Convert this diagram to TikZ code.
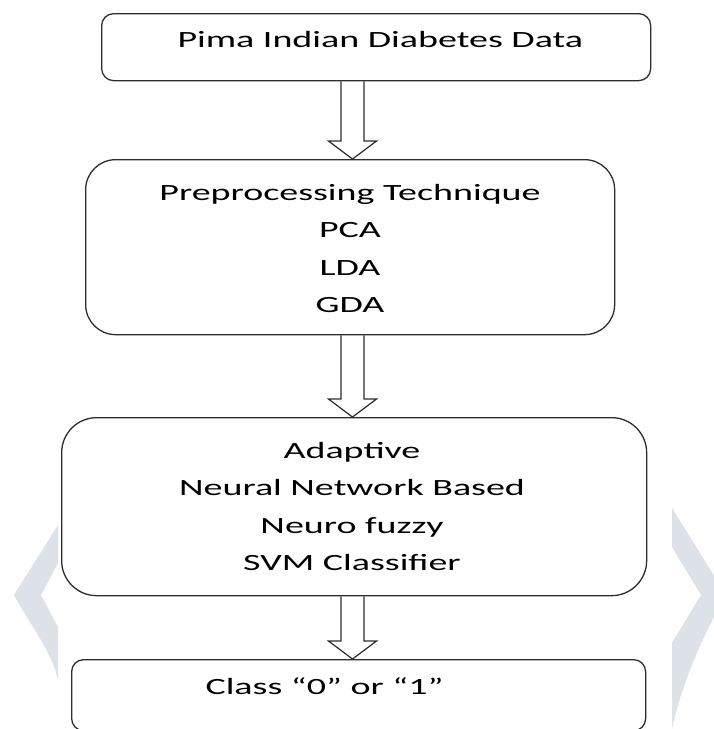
\documentclass[tikz,border=0pt]{standalone}
\usepackage{fontspec}
\setmainfont{Carlito}[FakeStretch=1.63]
\usetikzlibrary{calc}
\definecolor{markgray}{RGB}{220,226,231}
\definecolor{edgegray}{RGB}{45,45,45}

\begin{document}
\begin{tikzpicture}[x=1pt, y=-1pt, font=\fontsize{23.3}{37.5}\selectfont,
  stage/.style={draw=edgegray, line width=1.3pt, fill=white, anchor=north west, inner sep=0pt},
  flow/.style={draw=edgegray, line width=1.2pt, line join=miter}]
  \useasboundingbox[fill=white] (0,0) rectangle (713,729);
  \fill[markgray] (58,525) -- (14,595) .. controls (32,628) and (52,652) .. (58,680) -- (58,627) -- (41,595) -- (58,563) -- cycle;
  \fill[markgray] (672,508) -- (726,595) .. controls (700,640) and (680,690) .. (672,729) -- (672,643) -- (701,595) -- (672,547) -- cycle;
  \node[stage, rounded corners=12pt, minimum width=549pt, minimum height=67pt] (data) at (101,13) {};
  \node[anchor=base west] (datatxt) at (174,47) {Pima Indian Diabetes Data};
  \node[stage, rounded corners=30pt, minimum width=529pt, minimum height=175pt] (prep) at (85,159) {};
  \node[anchor=base, align=center] (preptxt) at (350,312.5) {Preprocessing Technique\\PCA\\LDA\\GDA};
  \node[stage, rounded corners=35pt, minimum width=585pt, minimum height=178pt] (clf) at (61,417) {};
  \node[anchor=base, align=center] (clftxt) at (352,570.5) {Adaptive\\Neural Network Based\\Neuro fuzzy\\SVM Classifier};
  \node[stage, rounded corners=12pt, minimum width=574pt, minimum height=71pt] (result) at (71,659) {};
  \node[anchor=base west] (resulttxt) at (202,694) {Class “0” or “1”};
  \coordinate (axis) at (352.5,0);
  \foreach \a/\b in {data/prep, prep/clf, clf/result}
    \draw[flow] let \p1=(\a.south -| axis), \p2=(\b.north -| axis) in
      (\x1-11.5pt,\y1) -- (\x1-11.5pt,\y2+18pt) -- (\x1-24pt,\y2+18pt) -- (\p2)
      -- (\x1+24pt,\y2+18pt) -- (\x1+11.5pt,\y2+18pt) -- (\x1+11.5pt,\y1);
\end{tikzpicture}
\end{document}
